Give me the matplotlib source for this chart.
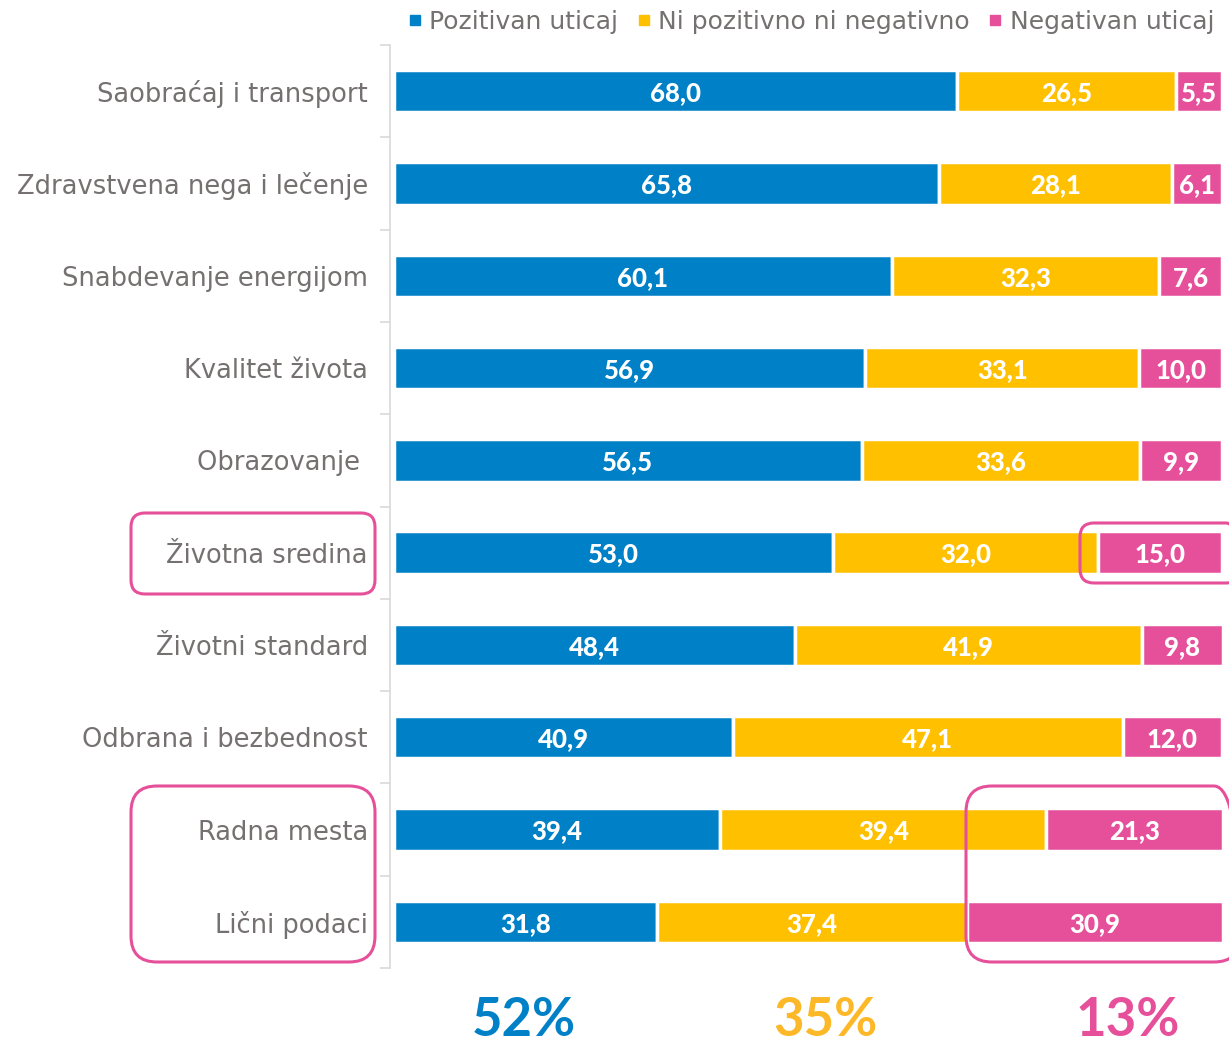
import matplotlib
matplotlib.use("Agg")
import matplotlib.pyplot as plt
from matplotlib.patches import FancyBboxPatch
from matplotlib.lines import Line2D
from matplotlib.transforms import IdentityTransform
import numpy as np

categories = ["Saobraćaj i transport", "Zdravstvena nega i lečenje", "Snabdevanje energijom",
              "Kvalitet života", "Obrazovanje ", "Životna sredina", "Životni standard",
              "Odbrana i bezbednost", "Radna mesta", "Lični podaci"]
positive = [68.0, 65.8, 60.1, 56.9, 56.5, 53.0, 48.4, 40.9, 39.4, 31.8]
neutral = [26.5, 28.1, 32.3, 33.1, 33.6, 32.0, 41.9, 47.1, 39.4, 37.4]
negative = [5.5, 6.1, 7.6, 10.0, 9.9, 15.0, 9.8, 12.0, 21.3, 30.9]
series_names = ["Pozitivan uticaj", "Ni pozitivno ni negativno", "Negativan uticaj"]
colors = ["#0080C6", "#FFC000", "#E6509A"]
summary_colors = ["#0080C6", "#FDB827", "#E6509A"]

plt.rcParams['font.family'] = ["DejaVu Sans"]
GREY = "#767171"

W, H = 1229, 1044
fig = plt.figure(figsize=(W / 100, H / 100), dpi=100)
ax = fig.add_axes([390 / W, 76 / H, 832 / W, 923 / H])

y = np.arange(len(categories))
left = np.zeros(len(categories))
for vals, col in zip([positive, neutral, negative], colors):
    vals = np.array(vals)
    ax.barh(y, vals, left=left, height=0.46, color=col, edgecolor="white", linewidth=2.5)
    for yi, l, v in zip(y, left, vals):
        ax.text(l + v / 2, yi + 0.02, f"{v:.1f}".replace(".", ","), ha="center", va="center",
                color="white", fontsize=18.5, fontweight="black", family=["Lato", "DejaVu Sans"])
    left += vals

ax.set_xlim(-0.5, 100)
ax.set_ylim(len(categories) - 0.5, -0.5)
ax.set_yticks(y)
ax.set_yticklabels(categories, fontsize=18.5, color=GREY)
ax.tick_params(axis="y", which="major", length=0, pad=16)
ax.set_yticks(np.arange(-0.5, len(categories)), minor=True)
ax.tick_params(axis="y", which="minor", length=7, color="#D9D9D9", width=1.2)
ax.set_xticks([])
for s in ["top", "right", "bottom"]:
    ax.spines[s].set_visible(False)
ax.spines["left"].set_color("#D9D9D9")
ax.spines["left"].set_linewidth(1.2)

handles = [Line2D([0], [0], marker="s", linestyle="none", markersize=7, color=c) for c in colors]
fig.legend(handles, series_names, loc="center right", bbox_to_anchor=(1.0, 1 - 22 / H),
           frameon=False, ncol=3, fontsize=18, labelcolor=GREY, handlelength=0.55,
           handletextpad=0.3, columnspacing=0.75, borderaxespad=0.2)

# summary percentages (means of series)
for vals, col, xc in zip([positive, neutral, negative], summary_colors, [524, 825, 1128]):
    fig.text(xc / W, 1 - 1021 / H, f"{round(np.mean(vals)):.0f}%", ha="center", va="center",
             color=col, fontsize=38, fontweight="bold", family=["Lato", "DejaVu Sans"])

# highlight boxes (pixel coordinates, image origin top-left)
boxes = [(131, 513, 375, 594), (1080, 523, 1240, 583), (131, 786, 375, 962), (966, 786, 1240, 962)]
for x0, y0, x1, y1 in boxes:
    p = FancyBboxPatch((x0, H - y1), x1 - x0, y1 - y0,
                       boxstyle="round,pad=0,rounding_size=14" if (y1 - y0) < 100 else "round,pad=0,rounding_size=26",
                       fill=False, edgecolor="#E6509A", linewidth=2.2,
                       transform=IdentityTransform(), clip_on=False)
    fig.add_artist(p)

fig.savefig("out.png", dpi=100)
